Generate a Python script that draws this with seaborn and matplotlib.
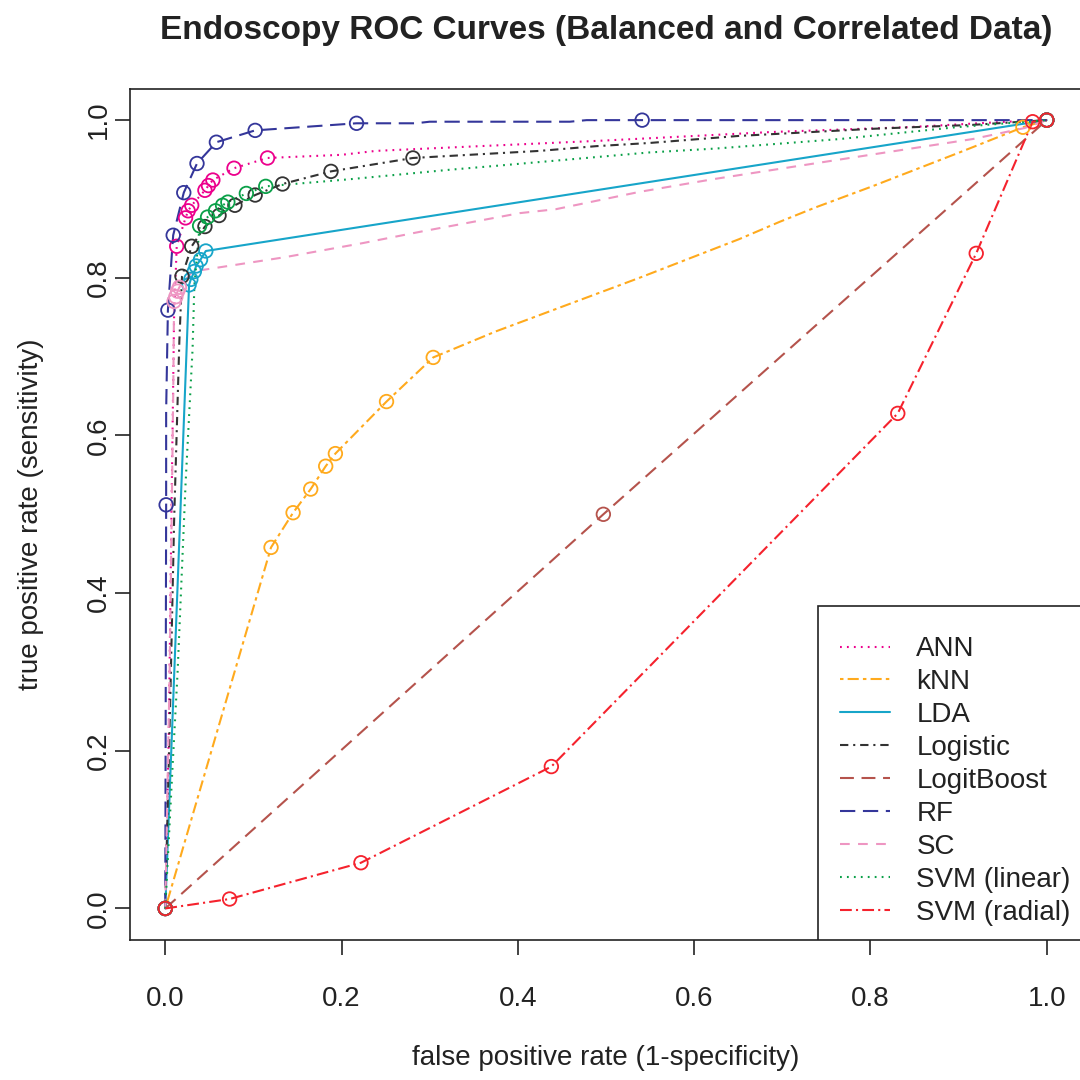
import matplotlib
matplotlib.use("Agg")
import matplotlib.pyplot as plt
import seaborn as sns
import numpy as np

# ---------------- data ----------------
series_names = ["ANN", "kNN", "LDA", "Logistic", "LogitBoost", "RF", "SC",
                "SVM (linear)", "SVM (radial)"]

# ROC curve paths (false positive rate, true positive rate)
ann_fpr = [0, 0.004, 0.007, 0.010, 0.013, 0.023, 0.026, 0.030, 0.045, 0.049, 0.054, 0.078, 0.116,
           0.20, 0.239, 0.337, 0.496, 0.549, 0.689, 0.841, 0.955, 1.0]
ann_tpr = [0, 0.22, 0.50, 0.75, 0.840, 0.876, 0.885, 0.892, 0.911, 0.917, 0.924, 0.939, 0.952,
           0.956, 0.961, 0.966, 0.974, 0.977, 0.985, 0.991, 0.998, 1.0]
ann_mfpr = [0, 0.013, 0.023, 0.026, 0.030, 0.045, 0.049, 0.054, 0.078, 0.116, 1.0]
ann_mtpr = [0, 0.840, 0.876, 0.885, 0.892, 0.911, 0.917, 0.924, 0.939, 0.952, 1.0]

knn_fpr = [0, 0.120, 0.145, 0.165, 0.182, 0.193, 0.251, 0.304, 0.375, 0.459, 0.538, 0.651,
           0.697, 0.737, 0.802, 0.901, 0.973, 1.0]
knn_tpr = [0, 0.458, 0.502, 0.532, 0.561, 0.577, 0.643, 0.699, 0.732, 0.767, 0.800, 0.849,
           0.871, 0.889, 0.916, 0.959, 0.991, 1.0]
knn_mfpr = [0, 0.120, 0.145, 0.165, 0.182, 0.193, 0.251, 0.304, 0.973, 1.0]
knn_mtpr = [0, 0.458, 0.502, 0.532, 0.561, 0.577, 0.643, 0.699, 0.991, 1.0]

lda_fpr = [0, 0.027, 0.029, 0.033, 0.035, 0.040, 0.046, 1.0]
lda_tpr = [0, 0.791, 0.798, 0.808, 0.815, 0.823, 0.834, 1.0]
lda_mfpr = [0, 0.027, 0.029, 0.033, 0.035, 0.040, 0.046, 1.0]
lda_mtpr = [0, 0.791, 0.798, 0.808, 0.815, 0.823, 0.834, 1.0]

log_fpr = [0, 0.006, 0.010, 0.016, 0.019, 0.030, 0.045, 0.061, 0.079, 0.102, 0.133, 0.188,
           0.281, 0.425, 0.489, 0.549, 0.651, 0.802, 0.916, 1.0]
log_tpr = [0, 0.28, 0.49, 0.72, 0.802, 0.840, 0.865, 0.879, 0.892, 0.905, 0.919, 0.935,
           0.952, 0.961, 0.967, 0.971, 0.980, 0.989, 0.994, 1.0]
log_mfpr = [0, 0.019, 0.030, 0.045, 0.061, 0.079, 0.102, 0.133, 0.188, 0.281, 1.0]
log_mtpr = [0, 0.802, 0.840, 0.865, 0.879, 0.892, 0.905, 0.919, 0.935, 0.952, 1.0]

lb_fpr = [0, 0.497, 1.0]
lb_tpr = [0, 0.500, 1.0]
lb_mfpr = [0, 0.497, 1.0]
lb_mtpr = [0, 0.500, 1.0]

rf_fpr = [0, 0.001, 0.001, 0.003, 0.009, 0.021, 0.036, 0.058, 0.102, 0.217, 0.284, 0.300,
          0.459, 0.478, 0.541, 1.0]
rf_tpr = [0, 0.512, 0.631, 0.759, 0.854, 0.908, 0.945, 0.972, 0.987, 0.996, 0.996, 0.998,
          0.998, 1.0, 1.0, 1.0]
rf_mfpr = [0, 0.001, 0.003, 0.009, 0.021, 0.036, 0.058, 0.102, 0.217, 0.541, 1.0]
rf_mtpr = [0, 0.512, 0.759, 0.854, 0.908, 0.945, 0.972, 0.987, 0.996, 1.0, 1.0]

sc_fpr = [0, 0.005, 0.009, 0.010, 0.012, 0.014, 0.016, 0.031, 0.135, 0.224, 0.292, 0.402,
          0.443, 0.538, 0.621, 0.765, 0.916, 0.975, 1.0]
sc_tpr = [0, 0.30, 0.65, 0.770, 0.776, 0.783, 0.788, 0.808, 0.826, 0.844, 0.859, 0.882,
          0.887, 0.909, 0.925, 0.950, 0.976, 0.990, 1.0]
sc_mfpr = [0, 0.010, 0.012, 0.014, 0.016, 1.0]
sc_mtpr = [0, 0.770, 0.776, 0.783, 0.788, 1.0]

svl_fpr = [0, 0.008, 0.014, 0.023, 0.031, 0.033, 0.039, 0.048, 0.057, 0.065, 0.071, 0.092,
           0.114, 0.209, 0.322, 0.375, 0.549, 0.625, 0.765, 0.897, 1.0]
svl_tpr = [0, 0.174, 0.30, 0.538, 0.71, 0.79, 0.866, 0.877, 0.885, 0.892, 0.896, 0.907,
           0.916, 0.925, 0.937, 0.942, 0.959, 0.964, 0.976, 0.991, 1.0]
svl_mfpr = [0, 0.039, 0.048, 0.057, 0.065, 0.071, 0.092, 0.114, 1.0]
svl_mtpr = [0, 0.866, 0.877, 0.885, 0.892, 0.896, 0.907, 0.916, 1.0]

svr_fpr = [0, 0.073, 0.222, 0.438, 0.831, 0.920, 0.984, 1.0]
svr_tpr = [0, 0.012, 0.058, 0.180, 0.628, 0.831, 0.998, 1.0]
svr_mfpr = [0, 0.073, 0.222, 0.438, 0.831, 0.920, 0.984, 1.0]
svr_mtpr = [0, 0.012, 0.058, 0.180, 0.628, 0.831, 0.998, 1.0]

x_ticks = [0.0, 0.2, 0.4, 0.6, 0.8, 1.0]
tick_labels = ["0.0", "0.2", "0.4", "0.6", "0.8", "1.0"]

# ---------------- styling ----------------
colors = ["#EC008C", "#FFAA1D", "#17A5C9", "#333333", "#B5534C", "#34369A", "#EE96C2",
          "#0AA048", "#F5222D"]
dashes = [(1.3, 3.7), (2.5, 3.0, 8.0, 3.0), None, (6.0, 3.5, 1.5, 3.5), (10.0, 5.5),
          (11.0, 5.5), (7.0, 6.0), (1.3, 3.7), (8.5, 3.0, 1.5, 3.0)]

paths = [(ann_fpr, ann_tpr), (knn_fpr, knn_tpr), (lda_fpr, lda_tpr), (log_fpr, log_tpr),
         (lb_fpr, lb_tpr), (rf_fpr, rf_tpr), (sc_fpr, sc_tpr), (svl_fpr, svl_tpr),
         (svr_fpr, svr_tpr)]
marks = [(ann_mfpr, ann_mtpr), (knn_mfpr, knn_mtpr), (lda_mfpr, lda_mtpr), (log_mfpr, log_mtpr),
         (lb_mfpr, lb_mtpr), (rf_mfpr, rf_mtpr), (sc_mfpr, sc_mtpr), (svl_mfpr, svl_mtpr),
         (svr_mfpr, svr_mtpr)]

sns.set_theme(style="white")
plt.rcParams["font.family"] = ["Liberation Sans", "DejaVu Sans"]
plt.rcParams["lines.scale_dashes"] = False

fig = plt.figure(figsize=(10.8, 10.8), dpi=100)
fig.patch.set_facecolor("white")
ax = fig.add_axes([130 / 1080, 1 - 940 / 1080, 952 / 1080, 851.4 / 1080])
ax.set_facecolor("white")

for i, name in enumerate(series_names):
    fx, fy = paths[i]
    ls = "-" if dashes[i] is None else (0, dashes[i])
    sns.lineplot(x=fx, y=fy, sort=False, estimator=None, color=colors[i], linestyle=ls,
                 linewidth=1.5, label=name, ax=ax, zorder=2 + i * 0.1)
for i, name in enumerate(series_names):
    mx, my = marks[i]
    sns.scatterplot(x=mx, y=my, marker="o", s=95, facecolor="none", edgecolor=colors[i],
                    linewidth=1.3, ax=ax, zorder=3 + i * 0.1)

ax.set_xlim(-0.04, 1.04)
ax.set_ylim(-0.04, 1.04)
ax.set_xticks(x_ticks)
ax.set_xticklabels(tick_labels)
ax.set_yticks(x_ticks)
ax.set_yticklabels(tick_labels, rotation=90, va="center")

for sp in ax.spines.values():
    sp.set_color("#222222")
    sp.set_linewidth(1.2)
    sp.set_zorder(12)

ax.tick_params(axis="both", direction="out", length=11, width=1.2, colors="#222222",
               labelsize=20, labelcolor="#222222")
ax.tick_params(axis="x", pad=22)
ax.tick_params(axis="y", pad=2)
ax.xaxis.set_ticks_position("bottom")
ax.yaxis.set_ticks_position("left")

ax.set_xlabel("false positive rate (1-specificity)", fontsize=20, color="#222222")
ax.set_ylabel("true positive rate (sensitivity)", fontsize=20, color="#222222")
ax.xaxis.label.set_va("center")
ax.yaxis.label.set_va("center")
ax.xaxis.set_label_coords(0.5, -(1058 - 940) / 851.4)
ax.yaxis.set_label_coords(-(130 - 31) / 952, 0.5)

ax.set_title("Endoscopy ROC Curves (Balanced and Correlated Data)", fontsize=24,
             fontweight="bold", color="#222222", pad=36)

leg = ax.legend(loc="lower right", bbox_to_anchor=((1093 - 130) / 952, -8 / 851.4),
                fontsize=20, frameon=True, fancybox=False, title=" ", title_fontsize=1,
                edgecolor="#222222", framealpha=1, borderaxespad=0, handlelength=1.8,
                handletextpad=0.95, labelspacing=0.25, borderpad=0.8, labelcolor="#222222")
leg.get_frame().set_linewidth(1.2)
leg.get_frame().set_clip_box(ax.bbox)
leg.get_frame().set_clip_on(True)
leg.set_zorder(10)

fig.savefig("out.png", dpi=100, facecolor="white")
